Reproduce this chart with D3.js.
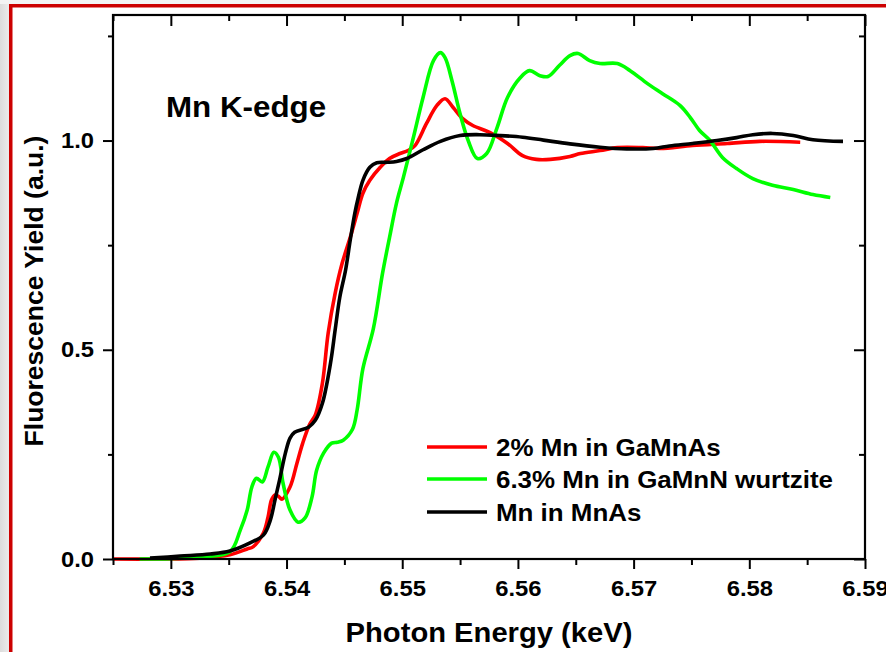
<!DOCTYPE html>
<html>
<head>
<meta charset="utf-8">
<script src="https://cdn.jsdelivr.net/npm/d3@7/dist/d3.min.js"></script>
<style>
  html, body { margin: 0; padding: 0; background: #ffffff; }
  svg { display: block; }
  text { font-family: Arial, "Liberation Sans", sans-serif; font-weight: bold; fill: #000; }
</style>
</head>
<body>
<svg id="chart" width="886" height="652"></svg>
<script>
// Mn K-edge XANES: photon energy (keV) vs. normalised fluorescence yield
const gamnas = [
  [6.5250, 0.000], [6.5290, 0.000], [6.5325, 0.002], [6.5351, 0.010], [6.5366, 0.024],
  [6.5371, 0.029], [6.5380, 0.062], [6.5384, 0.100], [6.5387, 0.141], [6.5390, 0.153],
  [6.5393, 0.150], [6.5396, 0.143], [6.5403, 0.172], [6.5409, 0.229], [6.5414, 0.277],
  [6.5420, 0.322], [6.5425, 0.345], [6.5431, 0.420], [6.5436, 0.540], [6.5442, 0.635],
  [6.5448, 0.706], [6.5455, 0.768], [6.5461, 0.826], [6.5466, 0.874], [6.5472, 0.905],
  [6.5481, 0.936], [6.5489, 0.957], [6.5498, 0.969], [6.5505, 0.976], [6.5511, 0.988],
  [6.5521, 1.041], [6.5530, 1.084], [6.5537, 1.100], [6.5544, 1.079], [6.5552, 1.053],
  [6.5561, 1.036], [6.5576, 1.019], [6.5591, 0.993], [6.5604, 0.964], [6.5616, 0.955],
  [6.5628, 0.955], [6.5645, 0.962], [6.5654, 0.969], [6.5671, 0.976], [6.5686, 0.983],
  [6.5708, 0.983], [6.5723, 0.981], [6.5751, 0.988], [6.5781, 0.993], [6.5809, 0.998],
  [6.5844, 0.996]
];

const gamnn = [
  [6.5273, 0.000], [6.5300, 0.001], [6.5325, 0.005], [6.5351, 0.017], [6.5360, 0.069],
  [6.5366, 0.117], [6.5370, 0.172], [6.5374, 0.193], [6.5379, 0.184], [6.5384, 0.220],
  [6.5389, 0.255], [6.5393, 0.243], [6.5397, 0.181], [6.5403, 0.117], [6.5410, 0.088],
  [6.5416, 0.098], [6.5422, 0.148], [6.5426, 0.212], [6.5432, 0.253], [6.5439, 0.277],
  [6.5444, 0.279], [6.5449, 0.284], [6.5457, 0.310], [6.5461, 0.356], [6.5466, 0.455],
  [6.5475, 0.550], [6.5483, 0.683], [6.5489, 0.768], [6.5495, 0.850], [6.5501, 0.912],
  [6.5509, 1.000], [6.5518, 1.103], [6.5527, 1.191], [6.5533, 1.210], [6.5537, 1.198],
  [6.5543, 1.143], [6.5550, 1.064], [6.5557, 1.000], [6.5565, 0.957], [6.5573, 0.969],
  [6.5582, 1.031], [6.5591, 1.103], [6.5602, 1.150], [6.5610, 1.167], [6.5619, 1.155],
  [6.5626, 1.153], [6.5636, 1.180], [6.5645, 1.203], [6.5652, 1.208], [6.5662, 1.191],
  [6.5671, 1.184], [6.5686, 1.184], [6.5697, 1.167], [6.5712, 1.136], [6.5725, 1.112],
  [6.5740, 1.084], [6.5749, 1.055], [6.5757, 1.024], [6.5766, 1.000], [6.5777, 0.959],
  [6.5789, 0.933], [6.5803, 0.909], [6.5820, 0.893], [6.5838, 0.883], [6.5855, 0.871],
  [6.5870, 0.864]
];

const mnas = [
  [6.5282, 0.002], [6.5308, 0.007], [6.5334, 0.012], [6.5351, 0.019], [6.5368, 0.038],
  [6.5380, 0.057], [6.5386, 0.093], [6.5390, 0.141], [6.5394, 0.189], [6.5399, 0.253],
  [6.5403, 0.289], [6.5407, 0.303], [6.5419, 0.315], [6.5425, 0.332], [6.5431, 0.372],
  [6.5438, 0.468], [6.5442, 0.547], [6.5446, 0.625], [6.5451, 0.690], [6.5455, 0.761],
  [6.5459, 0.826], [6.5462, 0.864], [6.5466, 0.905], [6.5472, 0.936], [6.5478, 0.947],
  [6.5487, 0.948], [6.5495, 0.950], [6.5504, 0.957], [6.5518, 0.978], [6.5533, 0.998],
  [6.5550, 1.012], [6.5567, 1.014], [6.5584, 1.012], [6.5604, 1.008], [6.5622, 1.001],
  [6.5645, 0.992], [6.5671, 0.984], [6.5694, 0.980], [6.5717, 0.981], [6.5731, 0.987],
  [6.5751, 0.993], [6.5772, 1.000], [6.5789, 1.007], [6.5803, 1.014], [6.5820, 1.017],
  [6.5838, 1.012], [6.5855, 1.002], [6.5881, 0.998]
];

const seriesNames = ["2% Mn in GaMnAs", "6.3% Mn in GaMnN wurtzite", "Mn in MnAs"];
const seriesColors = ["#ff0000", "#00ff00", "#000000"];
const xMajorTicks = [6.53, 6.54, 6.55, 6.56, 6.57, 6.58, 6.59];
const xMinorTicks = [6.525, 6.535, 6.545, 6.555, 6.565, 6.575, 6.585];
const yMajorTicks = [0.0, 0.5, 1.0];
const yMinorTicks = [0.25, 0.75, 1.25];

const svg = d3.select("#chart");
const W = 886, H = 652;
const FONT = "Arial, 'Liberation Sans', sans-serif";

// page backdrop: grey strip on the left, red frame lines
const defs = svg.append("defs");
const grad = defs.append("linearGradient").attr("id", "leftFade").attr("x1", "0").attr("x2", "1");
grad.append("stop").attr("offset", "0").attr("stop-color", "#dcdcdc");
grad.append("stop").attr("offset", "1").attr("stop-color", "#ededed");
svg.append("rect").attr("x", 0).attr("y", 0).attr("width", W).attr("height", H).attr("fill", "#ffffff");
svg.append("rect").attr("x", 0).attr("y", 0).attr("width", 10).attr("height", H).attr("fill", "url(#leftFade)");
svg.append("rect").attr("x", 0).attr("y", 0).attr("width", W).attr("height", 4).attr("fill", "#f3f3f3");
svg.append("rect").attr("x", 9).attr("y", 4).attr("width", W - 9).attr("height", 3.5).attr("fill", "#cc0000");
svg.append("rect").attr("x", 9).attr("y", 4).attr("width", 3.5).attr("height", H - 4).attr("fill", "#cc0000");

const plot = { left: 113, top: 15, right: 865, bottom: 559 };

const x = d3.scaleLinear().domain([6.525, 6.59]).range([plot.left, plot.right]);
const y = d3.scaleLinear().domain([0, 1.3]).range([plot.bottom, plot.top]);

// curves
const line = d3.line()
  .x(d => x(d[0]))
  .y(d => y(d[1]))
  .curve(d3.curveCatmullRom.alpha(0.5));

const g = svg.append("g");
[gamnas, gamnn, mnas].forEach((data, i) => {
  g.append("path")
    .datum(data)
    .attr("d", line)
    .attr("fill", "none")
    .attr("stroke", seriesColors[i])
    .attr("stroke-width", 3.6)
    .attr("stroke-linejoin", "round")
    .attr("stroke-linecap", "butt");
});

// axes
function styleAxis(sel) {
  sel.select(".domain").remove();
  sel.selectAll(".tick line").attr("stroke", "#000").attr("stroke-width", 2);
}

const bottomMajor = svg.append("g")
  .attr("transform", `translate(0,${plot.bottom})`)
  .call(d3.axisBottom(x).tickValues(xMajorTicks).tickSize(10).tickPadding(11).tickFormat(d3.format(".2f")));
styleAxis(bottomMajor);
bottomMajor.selectAll(".tick text").attr("font-size", 22).attr("font-family", FONT).attr("font-weight", "bold").attr("fill", "#000");

const bottomMinor = svg.append("g")
  .attr("transform", `translate(0,${plot.bottom})`)
  .call(d3.axisBottom(x).tickValues(xMinorTicks).tickSize(6).tickFormat(""));
styleAxis(bottomMinor);

const topMajor = svg.append("g")
  .attr("transform", `translate(0,${plot.top})`)
  .call(d3.axisTop(x).tickValues(xMajorTicks).tickSize(-11).tickFormat(""));
styleAxis(topMajor);
const topMinor = svg.append("g")
  .attr("transform", `translate(0,${plot.top})`)
  .call(d3.axisTop(x).tickValues(xMinorTicks).tickSize(-6).tickFormat(""));
styleAxis(topMinor);

const leftMajor = svg.append("g")
  .attr("transform", `translate(${plot.left},0)`)
  .call(d3.axisLeft(y).tickValues(yMajorTicks).tickSize(10).tickPadding(9).tickFormat(d3.format(".1f")));
styleAxis(leftMajor);
leftMajor.selectAll(".tick text").attr("font-size", 22).attr("font-family", FONT).attr("font-weight", "bold").attr("fill", "#000");

const leftMinor = svg.append("g")
  .attr("transform", `translate(${plot.left},0)`)
  .call(d3.axisLeft(y).tickValues(yMinorTicks).tickSize(5).tickFormat(""));
styleAxis(leftMinor);

const rightMajor = svg.append("g")
  .attr("transform", `translate(${plot.right},0)`)
  .call(d3.axisRight(y).tickValues(yMajorTicks).tickSize(-11).tickFormat(""));
styleAxis(rightMajor);
const rightMinor = svg.append("g")
  .attr("transform", `translate(${plot.right},0)`)
  .call(d3.axisRight(y).tickValues(yMinorTicks).tickSize(-6).tickFormat(""));
styleAxis(rightMinor);

// plot frame
svg.append("rect")
  .attr("x", plot.left).attr("y", plot.top)
  .attr("width", plot.right - plot.left).attr("height", plot.bottom - plot.top)
  .attr("fill", "none").attr("stroke", "#000").attr("stroke-width", 2.2);

// axis titles
svg.append("text")
  .attr("class", "wide")
  .attr("x", (plot.left + plot.right) / 2).attr("y", 642)
  .attr("text-anchor", "middle").attr("font-size", 27)
  .text("Photon Energy (keV)");

svg.append("text")
  .attr("transform", `translate(43,${(plot.top + plot.bottom) / 2 + 4}) rotate(-90)`)
  .attr("text-anchor", "middle").attr("font-size", 26.5)
  .text("Fluorescence Yield (a.u.)");

// edge label
svg.append("text")
  .attr("class", "wide")
  .attr("x", 166).attr("y", 117)
  .attr("font-size", 29)
  .text("Mn K-edge");

// legend
const legendRows = [447, 479, 512];
const legend = svg.append("g");
seriesNames.forEach((name, i) => {
  legend.append("line")
    .attr("x1", 427).attr("x2", 487)
    .attr("y1", legendRows[i]).attr("y2", legendRows[i])
    .attr("stroke", seriesColors[i]).attr("stroke-width", 3.4);
  legend.append("text")
    .attr("class", "wide")
    .attr("x", 496).attr("y", legendRows[i] + 9)
    .attr("font-size", 24)
    .text(name);
});

// the horizontal lettering is set slightly wide
const stretch = 1.08;
svg.selectAll("text.wide, .tick text").each(function () {
  const w = this.getComputedTextLength();
  if (w > 0) {
    d3.select(this)
      .attr("textLength", (w * stretch).toFixed(1))
      .attr("lengthAdjust", "spacingAndGlyphs");
  }
});
</script>
</body>
</html>
